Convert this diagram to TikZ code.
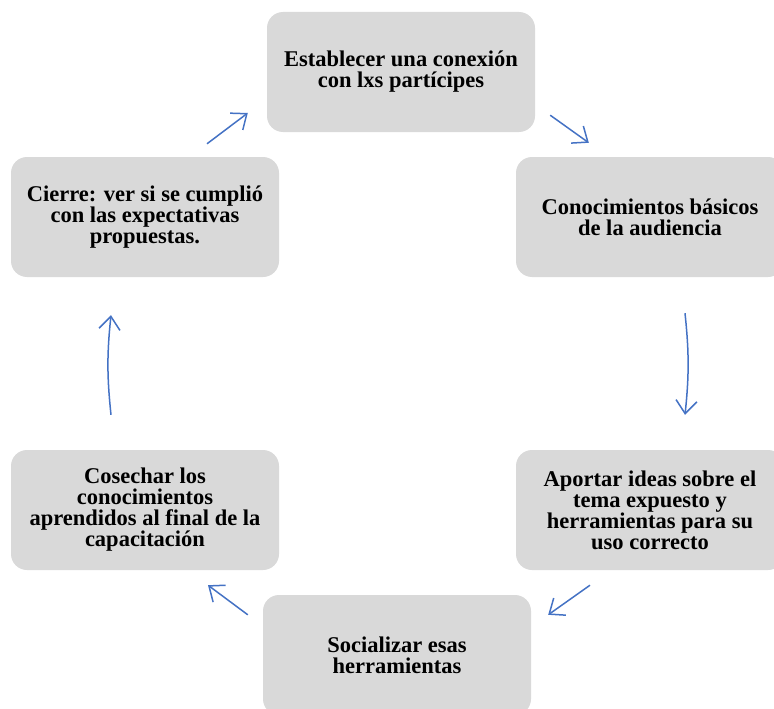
\documentclass[tikz,border=0pt]{standalone}
\usepackage{fontspec}
\setmainfont{Liberation Serif}
\usetikzlibrary{arrows.meta}
\definecolor{boxgray}{RGB}{217,217,217}
\definecolor{arrowblue}{RGB}{68,114,196}

\begin{document}
\begin{tikzpicture}[x=1pt, y=-1pt,
    stage/.style={fill=boxgray, rounded corners=16pt, minimum width=268pt, minimum height=120pt, inner sep=0pt, align=center, font=\fontsize{22.5}{21}\selectfont\bfseries},
    flow/.style={draw=arrowblue, line width=1.5pt, -{Straight Barb[length=13pt,width=21pt]}}]
            \clip (0,0) rectangle (774,709);
            \node[stage] (est) at (401,72) {Establecer una conexión\\con lxs partícipes};
            \node[stage] (con) at (650,217) {Conocimientos básicos\\de la audiencia};
            \node[stage] (apo) at (650,510) {Aportar ideas sobre el\\tema expuesto y\\herramientas para su\\uso correcto};
            \node[stage] (soc) at (397,655) {Socializar esas\\herramientas};
            \node[stage] (cos) at (145,510) {Cosechar los\\conocimientos\\aprendidos al final de la\\capacitación};
            \node[stage] (cie) at (145,217) {Cierre: ver si se cumplió\\con las expectativas\\propuestas.};
            \draw[flow] ([shift={(15,-17)}]est.south east) -- ([shift={(73,-14)}]con.north west);
            \draw[flow] ([shift={(35,36)}]con.south) to[bend left=6] ([shift={(35,-35)}]apo.north);
            \draw[flow] ([shift={(-60,15)}]apo.south) -- ([shift={(17,20)}]soc.north east);
            \draw[flow] ([shift={(-15,20)}]soc.north west) -- ([shift={(63,15)}]cos.south);
            \draw[flow] ([shift={(-34,-35)}]cos.north) to[bend left=6] ([shift={(-34,38)}]cie.south);
            \draw[flow] ([shift={(62,-13)}]cie.north) -- ([shift={(-19,41)}]est.west);
        \end{tikzpicture}
\end{document}
